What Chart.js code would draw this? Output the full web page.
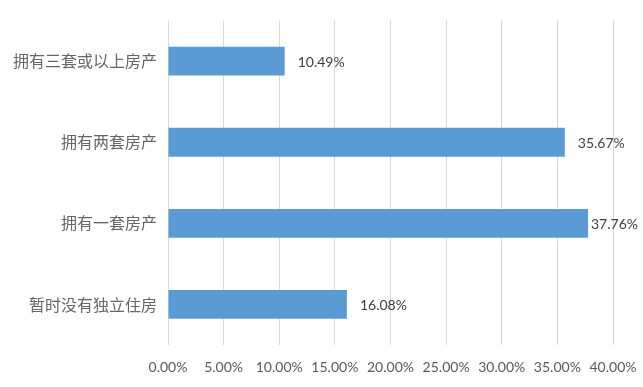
<!DOCTYPE html>
<html>
<head>
<meta charset="utf-8">
<script src="https://cdn.jsdelivr.net/npm/chart.js@4.4.0/dist/chart.umd.min.js"></script>
<style>
html,body{margin:0;padding:0;background:#fff;}
canvas{display:block;}
</style>
</head>
<body>
<canvas id="c" width="643" height="387"></canvas>
<script>
const categories = ["拥有三套或以上房产", "拥有两套房产", "拥有一套房产", "暂时没有独立住房"];
const values = [10.49, 35.67, 37.76, 16.08];
const tickValues = [0, 5, 10, 15, 20, 25, 30, 35, 40];

const dataLabelPlugin = {
  id: 'dataLabels',
  afterDatasetsDraw(chart) {
    const ctx = chart.ctx;
    const meta = chart.getDatasetMeta(0);
    ctx.save();
    ctx.font = '14px Lato';
    ctx.fillStyle = '#404040';
    ctx.textBaseline = 'middle';
    ctx.textAlign = 'left';
    meta.data.forEach((bar, i) => {
      const txt = values[i].toFixed(2) + '%';
      const w = ctx.measureText(txt).width;
      let x = bar.x + 13;
      x = Math.min(x, chart.width - w - 5);
      ctx.fillText(txt, x, bar.y + 1);
    });
    ctx.restore();
  }
};

new Chart(document.getElementById('c'), {
  type: 'bar',
  data: {
    labels: categories,
    datasets: [{
      data: values,
      backgroundColor: '#5b9bd5',
      borderWidth: 0,
      barPercentage: 0.71,
      categoryPercentage: 0.5
    }]
  },
  options: {
    indexAxis: 'y',
    responsive: false,
    animation: false,
    devicePixelRatio: 1,
    layout: { padding: { left: 0, right: 30, top: 19, bottom: 0 } },
    plugins: { legend: { display: false }, tooltip: { enabled: false } },
    scales: {
      x: {
        min: 0, max: 40,
        afterBuildTicks(s) { s.ticks = tickValues.map(v => ({ value: v })); },
        afterFit(s) { s.height = 42; s.paddingRight = 0; s.paddingLeft = 0; },
        grid: { color: '#d9d9d9', lineWidth: 1, drawTicks: false },
        border: { display: false },
        ticks: {
          padding: 14,
          color: '#595959',
          font: { family: 'Lato', size: 14 },
          callback: v => v.toFixed(2) + '%'
        }
      },
      y: {
        afterFit(s) { s.width = 168; },
        grid: { display: false, drawTicks: false },
        border: { display: false },
        ticks: {
          padding: 11,
          color: '#666666',
          font: { family: '"Noto Sans CJK SC"', size: 16 }
        }
      }
    }
  },
  plugins: [dataLabelPlugin]
});
</script>
</body>
</html>
